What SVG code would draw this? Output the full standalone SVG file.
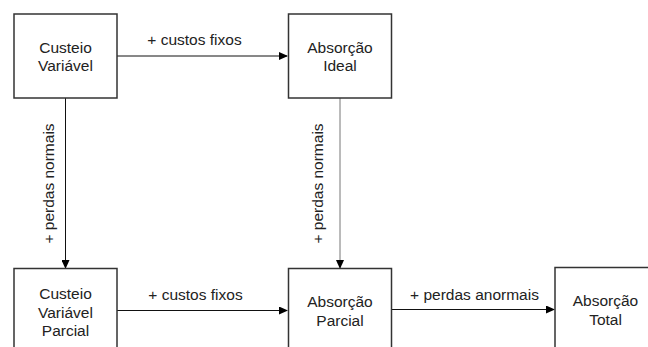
<svg xmlns="http://www.w3.org/2000/svg" width="648" height="347" viewBox="0 0 648 347">
<defs>
<marker id="ah" markerWidth="9" markerHeight="8" refX="8" refY="4" orient="auto" markerUnits="userSpaceOnUse">
<path d="M0,0 L9,4 L0,8 Z" fill="#000"/>
</marker>
<style>
.box{fill:#fff;stroke:#333;stroke-width:1.5}
.lbl{font-family:"Liberation Sans",Arial,sans-serif;font-size:15.5px;fill:#222;text-anchor:middle}
.edge{stroke:#111;stroke-width:1;fill:none;marker-end:url(#ah)}
</style>
</defs>
<rect width="648" height="347" fill="#fff"/>
<g id="connectors">
<line class="edge" x1="117" y1="56" x2="287" y2="56"/>
<line class="edge" x1="65.5" y1="98" x2="65.5" y2="268"/>
<line class="edge" x1="340" y1="98" x2="340" y2="268" style="stroke:#777"/>
<line class="edge" x1="117" y1="310.5" x2="287" y2="310.5"/>
<line class="edge" x1="392" y1="309.5" x2="554" y2="309.5"/>
<text class="lbl" x="194.5" y="45">+ custos fixos</text>
<text class="lbl" x="195.5" y="300">+ custos fixos</text>
<text class="lbl" x="474.5" y="300">+ perdas anormais</text>
<text class="lbl" transform="translate(54,183.5) rotate(-90)">+ perdas normais</text>
<text class="lbl" transform="translate(323,183.5) rotate(-90)">+ perdas normais</text>
</g>
<g id="custeio-variavel">
<rect class="box" x="14" y="14" width="103" height="84"/>
<text class="lbl" x="65.5" y="52.5">Custeio</text>
<text class="lbl" x="65.5" y="71">Variável</text>
</g>
<g id="absorcao-ideal">
<rect class="box" x="288.5" y="14" width="103" height="84"/>
<text class="lbl" x="340" y="52.5">Absorção</text>
<text class="lbl" x="340" y="71">Ideal</text>
</g>
<g id="custeio-variavel-parcial">
<rect class="box" x="14" y="268.5" width="103" height="90"/>
<text class="lbl" x="65.5" y="299">Custeio</text>
<text class="lbl" x="65.5" y="317.5">Variável</text>
<text class="lbl" x="65.5" y="336">Parcial</text>
</g>
<g id="absorcao-parcial">
<rect class="box" x="288.5" y="268.5" width="103" height="90"/>
<text class="lbl" x="340" y="307">Absorção</text>
<text class="lbl" x="340" y="325.5">Parcial</text>
</g>
<g id="absorcao-total">
<rect class="box" x="555" y="267.5" width="103" height="90"/>
<text class="lbl" x="605.5" y="306">Absorção</text>
<text class="lbl" x="605.5" y="324.5">Total</text>
</g>
</svg>
